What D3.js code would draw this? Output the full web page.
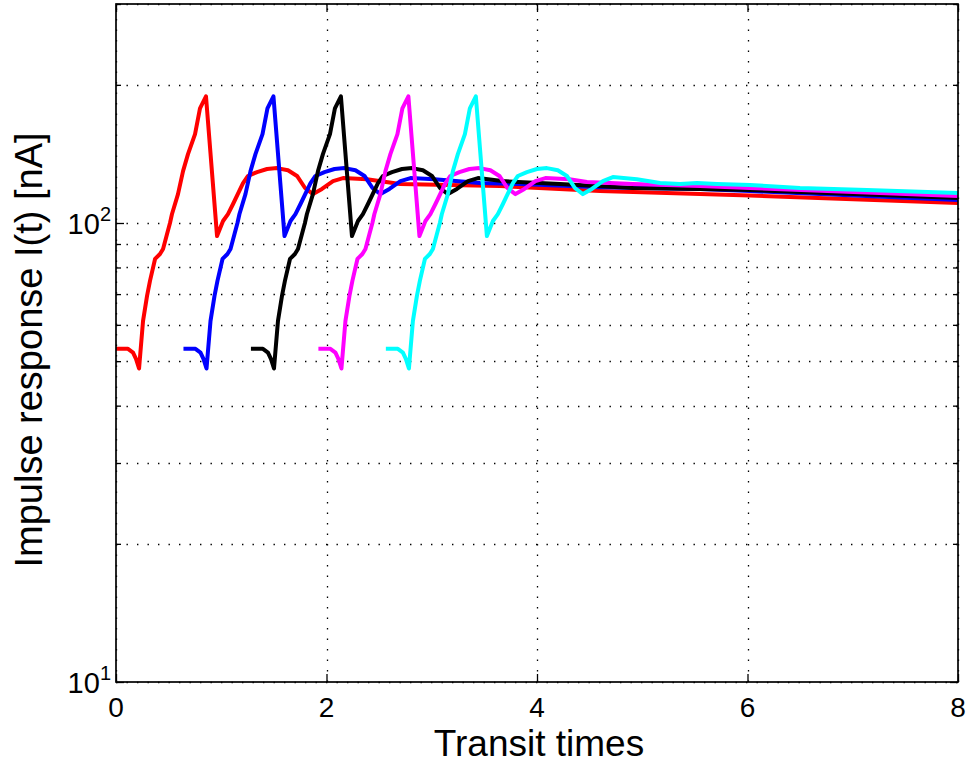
<!DOCTYPE html>
<html><head><meta charset="utf-8">
<script src="https://cdn.jsdelivr.net/npm/d3@7"></script>
<style>body{margin:0;background:#fff} text{font-family:"Liberation Sans",Arial,Helvetica,sans-serif;fill:#000}</style>
</head><body><svg id="c" width="973" height="768"></svg>
<script>
// ---- data ----
const xTicks = [0, 2, 4, 6, 8];
const yMajorTicks = [10, 100];
const yMajorLabels = ["1", "2"];          // exponents of 10
const yMinorTicks = [20, 30, 40, 50, 60, 70, 80, 90, 200, 300];
const xLabel = "Transit times";
const yLabel = "Impulse response I(t) [nA]";

const redT = [0, 0.114, 0.162, 0.19, 0.219, 0.257, 0.295, 0.323, 0.371, 0.418, 0.447, 0.485, 0.513, 0.532, 0.589, 0.637, 0.684, 0.751, 0.798, 0.855, 0.96, 1.017, 1.064, 1.112, 1.207, 1.254, 1.34, 1.435, 1.53, 1.634, 1.72, 1.796, 1.872, 1.957, 2.062, 2.157, 2.385, 2.698, 3.648, 4.599, 5.549, 6.024, 8];
const redV = [53.2, 53.2, 52.2, 50.6, 48.2, 61.2, 69.4, 74.8, 83.5, 85.6, 87.8, 94.6, 100, 104.6, 115.6, 129.7, 141.3, 156.2, 177.8, 188.8, 93.7, 101, 104.6, 110, 122.2, 126.6, 129.1, 131.1, 131.7, 130.3, 126.6, 119.2, 115.6, 118.6, 123.4, 125.3, 124.6, 121.6, 120.4, 117.4, 115.6, 114.8, 110.5];

const blueT = [0.641, 0.755, 0.803, 0.831, 0.86, 0.898, 0.936, 0.964, 1.012, 1.059, 1.088, 1.126, 1.154, 1.173, 1.23, 1.278, 1.325, 1.392, 1.439, 1.496, 1.601, 1.658, 1.705, 1.753, 1.848, 1.895, 1.981, 2.076, 2.171, 2.275, 2.361, 2.437, 2.513, 2.598, 2.703, 2.798, 3.026, 3.458, 3.839, 4.599, 5.549, 6.024, 8];
const blueV = [53.2, 53.2, 52.2, 50.6, 48.2, 61.2, 69.4, 74.8, 83.5, 85.6, 87.8, 94.6, 100, 104.6, 115.6, 129.7, 141.3, 156.2, 177.8, 188.8, 93.7, 101, 104.6, 110, 122.2, 126.6, 129.1, 131.1, 131.7, 130.3, 126.6, 119.2, 115.6, 118.6, 123.4, 125.3, 124.6, 122.2, 121.6, 119.7, 118.6, 117.4, 112.2];

const blackT = [1.282, 1.396, 1.444, 1.472, 1.501, 1.539, 1.577, 1.605, 1.653, 1.7, 1.729, 1.767, 1.795, 1.814, 1.871, 1.919, 1.966, 2.033, 2.08, 2.137, 2.242, 2.299, 2.346, 2.394, 2.489, 2.536, 2.622, 2.717, 2.812, 2.916, 3.002, 3.078, 3.154, 3.239, 3.344, 3.439, 3.667, 4.219, 4.912, 5.549, 6.024, 8];
const blackV = [53.2, 53.2, 52.2, 50.6, 48.2, 61.2, 69.4, 74.8, 83.5, 85.6, 87.8, 94.6, 100, 104.6, 115.6, 129.7, 141.3, 156.2, 177.8, 188.8, 93.7, 101, 104.6, 110, 122.2, 126.6, 129.1, 131.1, 131.7, 130.3, 126.6, 119.2, 115.6, 118.6, 123.4, 125.3, 123.4, 121.6, 119.2, 118.6, 118, 113.3];

const magentaT = [1.923, 2.037, 2.085, 2.113, 2.142, 2.18, 2.218, 2.246, 2.294, 2.341, 2.37, 2.408, 2.436, 2.455, 2.512, 2.56, 2.607, 2.674, 2.721, 2.778, 2.883, 2.94, 2.987, 3.035, 3.13, 3.177, 3.263, 3.358, 3.453, 3.557, 3.643, 3.719, 3.795, 3.88, 3.985, 4.08, 4.308, 4.475, 4.912, 5.549, 6.024, 8];
const magentaV = [53.2, 53.2, 52.2, 50.6, 48.2, 61.2, 69.4, 74.8, 83.5, 85.6, 87.8, 94.6, 100, 104.6, 115.6, 129.7, 141.3, 156.2, 177.8, 188.8, 93.7, 101, 104.6, 110, 122.2, 126.6, 129.1, 131.1, 131.7, 130.3, 126.6, 119.2, 115.6, 118.6, 123.4, 125.3, 124.6, 122.8, 121.6, 120.4, 119.2, 114.5];

const cyanT = [2.564, 2.678, 2.726, 2.754, 2.783, 2.821, 2.859, 2.887, 2.935, 2.982, 3.011, 3.049, 3.077, 3.096, 3.153, 3.201, 3.248, 3.315, 3.362, 3.419, 3.524, 3.581, 3.628, 3.676, 3.771, 3.818, 3.904, 3.999, 4.094, 4.198, 4.284, 4.36, 4.436, 4.521, 4.626, 4.721, 4.949, 5.169, 5.359, 5.52, 5.71, 6.024, 6.499, 7.135, 8];
const cyanV = [53.2, 53.2, 52.2, 50.6, 48.2, 61.2, 69.4, 74.8, 83.5, 85.6, 87.8, 94.6, 100, 104.6, 115.6, 129.7, 141.3, 156.2, 177.8, 188.8, 93.7, 101, 104.6, 110, 122.2, 126.6, 129.1, 131.1, 131.7, 130.3, 126.6, 119.2, 115.6, 118.6, 123.4, 125.9, 124.6, 122.2, 121.6, 122.2, 121.6, 121, 119.2, 118, 116.2];

const seriesNames = ["red", "blue", "black", "magenta", "cyan"];
const seriesColors = ["#ff0000", "#0000ff", "#000000", "#ff00ff", "#00ffff"];
const seriesT = [redT, blueT, blackT, magentaT, cyanT];
const seriesV = [redV, blueV, blackV, magentaV, cyanV];

// ---- layout ----
const L = 116, R = 958, T = 4, B = 682;
const svg = d3.select("#c");
const x = d3.scaleLinear().domain([0, 8]).range([L, R]);
const y = d3.scaleLog().domain([10, 300]).range([B, T]);

svg.append("rect").attr("width", 973).attr("height", 768).attr("fill", "#fff");

// grid (dotted)
const grid = svg.append("g").attr("stroke", "#000").attr("stroke-width", 1.3).attr("stroke-dasharray", "1.4,9.1");
grid.selectAll("line.gy").data(yMajorTicks.concat(yMinorTicks)).join("line")
  .attr("x1", L).attr("x2", R).attr("y1", d => Math.round(y(d)) + 0.5).attr("y2", d => Math.round(y(d)) + 0.5);
grid.selectAll("line.gx").data(xTicks).join("line")
  .attr("y1", B).attr("y2", T).attr("x1", d => Math.round(x(d)) + 0.5).attr("x2", d => Math.round(x(d)) + 0.5);

// curves
svg.append("clipPath").attr("id", "clip").append("rect").attr("x", L).attr("y", T).attr("width", R - L).attr("height", B - T);
const line = d3.line().x(d => x(d[0])).y(d => y(d[1]));
const cg = svg.append("g").attr("clip-path", "url(#clip)");
seriesNames.forEach((n, i) => {
  const pts = seriesT[i].map((t, j) => [t, seriesV[i][j]]);
  cg.append("path").datum(pts).attr("d", line).attr("fill", "none")
    .attr("stroke", seriesColors[i]).attr("stroke-width", 4)
    .attr("stroke-linejoin", "round").attr("stroke-linecap", "butt");
});

// axes: inward ticks on all four sides
const noDomain = g => g.select(".domain").remove();
svg.append("g").attr("transform", `translate(${L},0)`).call(d3.axisRight(y).tickValues(yMajorTicks).tickSize(8).tickFormat("")).call(noDomain);
svg.append("g").attr("transform", `translate(${L},0)`).call(d3.axisRight(y).tickValues(yMinorTicks).tickSize(5).tickFormat("")).call(noDomain);
svg.append("g").attr("transform", `translate(${R},0)`).call(d3.axisLeft(y).tickValues(yMajorTicks).tickSize(8).tickFormat("")).call(noDomain);
svg.append("g").attr("transform", `translate(${R},0)`).call(d3.axisLeft(y).tickValues(yMinorTicks).tickSize(5).tickFormat("")).call(noDomain);
svg.append("g").attr("transform", `translate(0,${B})`).call(d3.axisTop(x).tickValues(xTicks).tickSize(8).tickFormat("")).call(noDomain);
svg.append("g").attr("transform", `translate(0,${T})`).call(d3.axisBottom(x).tickValues(xTicks).tickSize(8).tickFormat("")).call(noDomain);
svg.selectAll(".tick line").attr("stroke", "#000").attr("stroke-width", 1.3);

// box
svg.append("rect").attr("x", L).attr("y", T).attr("width", R - L).attr("height", B - T)
  .attr("fill", "none").attr("stroke", "#000").attr("stroke-width", 1.7);

// tick labels
svg.selectAll("text.xt").data(xTicks).join("text").attr("class", "xt")
  .attr("x", d => x(d)).attr("y", 717).attr("text-anchor", "middle")
  .attr("font-size", 28).text(d => d);

yMajorTicks.forEach((v, i) => {
  const t = svg.append("text").attr("x", 111).attr("y", y(v) + 11).attr("text-anchor", "end").attr("font-size", 29);
  t.append("tspan").text("10");
  t.append("tspan").attr("font-size", 20).attr("dy", -13).text(yMajorLabels[i]);
});

// axis labels
svg.append("text").attr("x", (L + R) / 2 + 2).attr("y", 756).attr("text-anchor", "middle")
  .attr("font-size", 37).text(xLabel);
svg.append("text").attr("transform", `translate(42,${(T + B) / 2 + 7}) rotate(-90)`)
  .attr("text-anchor", "middle").attr("font-size", 38).text(yLabel);
</script></body></html>
